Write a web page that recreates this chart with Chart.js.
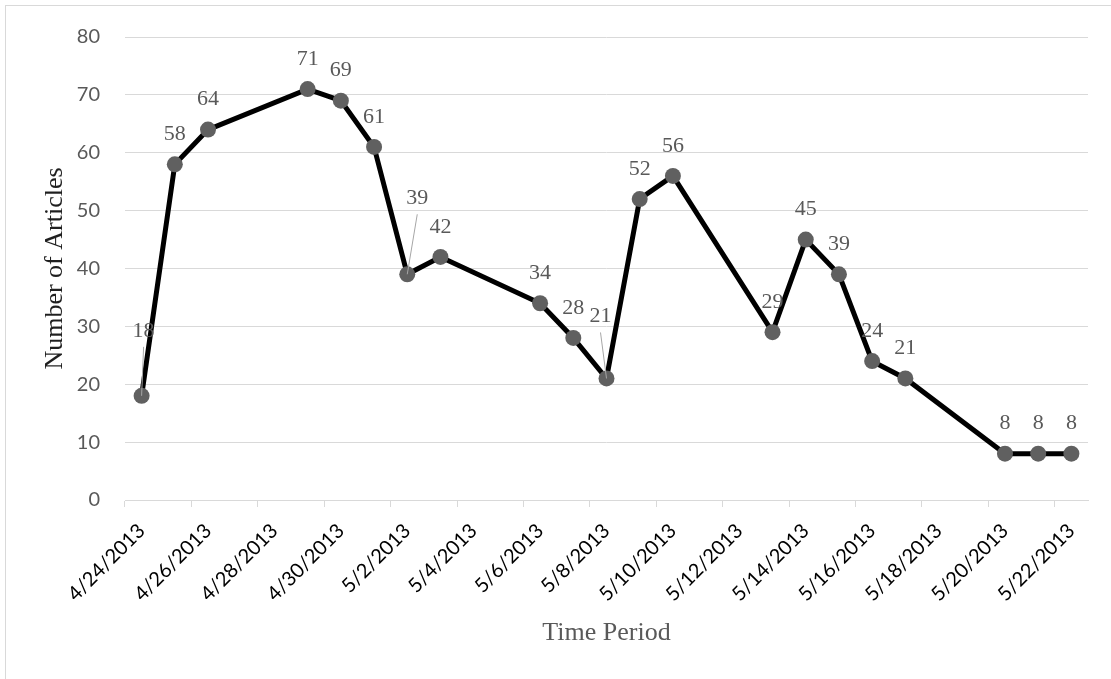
<!DOCTYPE html>
<html>
<head>
<meta charset="utf-8">
<script src="https://cdn.jsdelivr.net/npm/chart.js@4.4.1/dist/chart.umd.min.js"></script>
<style>
  html, body { margin: 0; padding: 0; background: #fff; }
  #wrap { position: relative; width: 1111px; height: 679px; overflow: hidden; }
  #frame { position: absolute; left: 5px; top: 5px; width: 1120px; height: 700px; border-left: 1px solid #d9d9d9; border-top: 1px solid #d9d9d9; }
  #chart { position: absolute; left: 0; top: 0; }
</style>
</head>
<body>
<div id="wrap">
  <div id="frame"></div>
  <canvas id="chart"></canvas>
</div>
<script>
// every day on the axis, 4/24 to 5/22
const axisDays = [
  "4/24/2013", "4/25/2013", "4/26/2013", "4/27/2013", "4/28/2013", "4/29/2013", "4/30/2013",
  "5/1/2013", "5/2/2013", "5/3/2013", "5/4/2013", "5/5/2013", "5/6/2013", "5/7/2013",
  "5/8/2013", "5/9/2013", "5/10/2013", "5/11/2013", "5/12/2013", "5/13/2013", "5/14/2013",
  "5/15/2013", "5/16/2013", "5/17/2013", "5/18/2013", "5/19/2013", "5/20/2013", "5/21/2013",
  "5/22/2013"
]

// days that have a count
const dates = [
  "4/24/2013", "4/25/2013", "4/26/2013", "4/29/2013", "4/30/2013", "5/1/2013", "5/2/2013",
  "5/3/2013", "5/6/2013", "5/7/2013", "5/8/2013", "5/9/2013", "5/10/2013", "5/13/2013",
  "5/14/2013", "5/15/2013", "5/16/2013", "5/17/2013", "5/20/2013", "5/21/2013", "5/22/2013"
]
const articles = [18, 58, 64, 71, 69, 61, 39, 42, 34, 28, 21, 52, 56, 29, 45, 39, 24, 21, 8, 8, 8]

// a few labels sit off to the side with a leader line
const labelNudge = { 0: [2, -65], 6: [10, -76], 10: [-6, -62] }

const pointLabels = {
  id: "pointLabels",
  afterDatasetsDraw(chart) {
    const ctx = chart.ctx
    const meta = chart.getDatasetMeta(0)
    ctx.save()
    ctx.font = "22px 'Liberation Serif'"
    ctx.fillStyle = "#595959"
    ctx.textAlign = "center"
    ctx.textBaseline = "middle"
    meta.data.forEach((pt, i) => {
      const nudge = labelNudge[i]
      const [dx, dy] = nudge || [0, -30]
      const x = pt.x + dx
      const y = pt.y + dy
      if (nudge) {
        ctx.strokeStyle = "#a6a6a6"
        ctx.lineWidth = 1
        ctx.beginPath()
        ctx.moveTo(x, y + 16)
        ctx.lineTo(pt.x, pt.y)
        ctx.stroke()
      }
      ctx.fillText(String(articles[i]), x, y)
    })
    ctx.restore()
  }
}

new Chart(document.getElementById("chart"), {
  type: "line",
  data: {
    labels: axisDays,
    datasets: [{
      data: dates.map((d, i) => ({ x: d, y: articles[i] })),
      borderColor: "#000",
      borderWidth: 5,
      pointRadius: 8,
      pointHoverRadius: 8,
      pointBackgroundColor: "#606060",
      pointBorderWidth: 0,
      tension: 0
    }]
  },
  options: {
    responsive: true,
    maintainAspectRatio: false,
    animation: false,
    devicePixelRatio: 1,
    layout: { padding: { top: 35, right: 23, left: 6, bottom: 0 } },
    plugins: {
      legend: { display: false },
      tooltip: { enabled: false }
    },
    scales: {
      x: {
        type: "category",
        offset: true,
        grid: {
          offset: true,
          drawOnChartArea: false,
          drawTicks: true,
          tickLength: 7,
          lineWidth: 1,
          color: (c) => (c.index !== undefined && c.index % 2 === 0) ? "#d9d9d9" : "rgba(0,0,0,0)"
        },
        border: { display: true, color: "#d9d9d9", width: 1 },
        ticks: {
          autoSkip: false,
          minRotation: 45,
          maxRotation: 45,
          padding: 12,
          color: "#000",
          font: { family: "Lato", size: 20 },
          callback(value, index) {
            return index % 2 === 0 ? this.getLabelForValue(value) : ""
          }
        },
        title: {
          display: true,
          text: "Time Period",
          color: "#595959",
          font: { family: "Liberation Serif", size: 26 },
          padding: { top: 0, bottom: 30 }
        },
        afterFit(scale) {
          scale.height = 179
          scale.paddingLeft = 0
          scale.paddingRight = 0
        }
      },
      y: {
        min: 0,
        max: 80,
        ticks: {
          stepSize: 10,
          padding: 25,
          color: "#595959",
          font: { family: "Lato", size: 20 }
        },
        grid: { color: "#d9d9d9", drawTicks: false, lineWidth: 1 },
        border: { display: false },
        title: {
          display: true,
          text: "Number of Articles",
          color: "#1f1f1f",
          font: { family: "Liberation Serif", size: 26 },
          padding: { top: 34, bottom: 0 }
        },
        afterFit(scale) {
          scale.width = 119
        }
      }
    }
  },
  plugins: [pointLabels]
})
</script>
</body>
</html>
